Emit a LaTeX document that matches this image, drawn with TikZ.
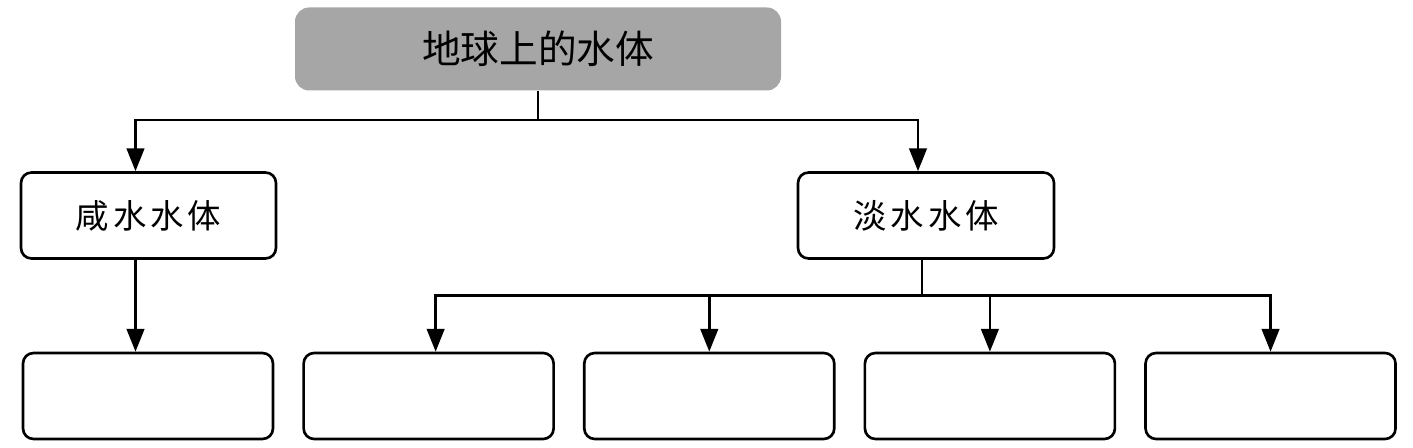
\documentclass[tikz,border=0pt]{standalone}
\usepackage{fontspec}
\newfontfamily\cjk{Noto Sans CJK SC}
\newfontfamily\cjkwide[LetterSpace=12]{Noto Sans CJK SC}
\usetikzlibrary{positioning, arrows.meta, calc}

\begin{document}
\begin{tikzpicture}[
  every node/.style={font=\cjk},
  box/.style={
    rectangle, draw=black, rounded corners=6pt, line width=1.5pt,
    minimum width=#1, minimum height=1.72cm, inner sep=0pt,
    font=\cjkwide\fontsize{19pt}{22pt}\selectfont
  },
  arr/.style={-{Triangle[length=13pt, width=10pt]}, line width=1.5pt},
]
\useasboundingbox (0,0) rectangle (28.26,-8.96);

%% Top: all water
\node[rectangle, rounded corners=8pt, fill=black!35,
      minimum width=9.72cm, minimum height=1.66cm, inner sep=0pt,
      font=\cjk\fontsize{22pt}{26pt}\selectfont] (water) at (10.76,-0.98) {地球上的水体};

%% Middle: salt and fresh
\node[box=5.1cm]  (salt)  at (2.97,-4.31)  {咸水水体};
\node[box=5.12cm] (fresh) at (18.52,-4.31) {淡水水体};

%% Bottom row (empty)
\node[box=5.0cm] (b1) at (2.96,-7.92) {};
\node[box=5.0cm, right=0.56cm of b1] (b2) {};
\node[box=5.0cm, right=0.56cm of b2] (b3) {};
\node[box=5.0cm, right=0.56cm of b3] (b4) {};
\node[box=5.0cm, right=0.56cm of b4] (b5) {};

%% Arrows
\coordinate (hub)  at ([yshift=-0.58cm]water.south);
\coordinate (sin)  at ([xshift=-0.26cm]salt.north);
\coordinate (fin)  at ([xshift=-0.16cm]fresh.north);
\coordinate (hub2) at ([xshift=-0.08cm, yshift=-0.72cm]fresh.south);

\draw[arr] (water.south) -- (hub) -| (sin);
\draw[arr] (hub) -| (fin);
\draw[arr] (sin |- salt.south) -- (sin |- b1.north);
\draw[line width=1.5pt] (hub2 |- fresh.south) -- (hub2);
\draw[arr] (hub2) -| ([xshift=0.14cm]b2.north);
\foreach \n in {b3,b4,b5}
  \draw[arr] (hub2) -| (\n.north);

\end{tikzpicture}
\end{document}
